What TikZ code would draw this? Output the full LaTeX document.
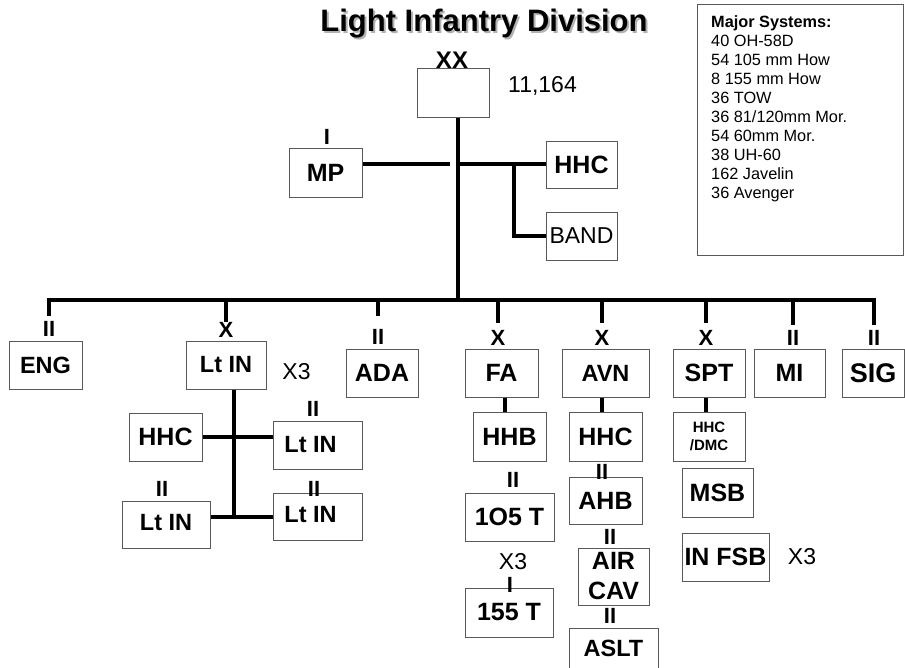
\documentclass[tikz,border=0pt]{standalone}
\usepackage{fontspec}
\setmainfont{Liberation Sans}
\newcommand{\fsz}[1]{\fontsize{#1}{#1}\selectfont}

\tikzset{
  unit/.style={draw=black!65, line width=1pt, inner sep=0pt, minimum height=48,
    align=center, font=\bfseries\fsz{25}},
  ech/.style={inner sep=0pt, font=\bfseries\fsz{22}},
  link/.style={line width=4pt},
  note/.style={inner sep=0pt, font=\fsz{23}},
}

\begin{document}
\begin{tikzpicture}[x=1pt, y=-1pt]
  \useasboundingbox (0,0) rectangle (905,667);
  \clip (0,0) rectangle (905,667);

  % title, with its grey shadow
  \node[inner sep=0pt, font=\bfseries\fsz{31}] (title) at (484,25)
    {\rlap{\hspace{2pt}\raisebox{-2pt}{\color{black!30}Light Infantry Division}}Light Infantry Division};

  % division headquarters
  \node[unit, minimum width=72, minimum height=49] (div) at (453,92.5) {};
  \node[ech, font=\bfseries\fsz{24}] (divE) at (452,60) {XX};
  \node[note] (strength) at (542.5,86) {11,164};

  \coordinate (hq) at (458,164);   % crossing of trunk and staff line
  \coordinate (br) at (514,164);   % branch to band
  \coordinate (bus) at (458,300);  % main bus line

  % divisional troops at the top
  \node[unit, minimum width=73, minimum height=49] (mp) at (325.5,172.5) {MP};
  \node[ech] (mpE) at (327,137) {I};
  \node[unit, minimum width=71, minimum height=47] (hhc) at (581.5,164.5) {HHC};
  \node[unit, minimum width=71, font=\fsz{23}] (band) at (581.5,236) {BAND};

  \draw[link] (div.south -| hq) -- (bus);
  \draw[link] (mp.east |- hq) -- ([xshift=-8pt]hq);
  \draw[link] (hq) -- (hq -| hhc.west);
  \draw[link] (br) |- (band.west);

  % major systems
  \node[draw=black!65, line width=1pt, inner sep=0pt, minimum width=206, minimum height=251,
    anchor=north west] (sys) at (697,4) {};
  \node[anchor=north west, align=left, inner sep=0pt, font=\fontsize{16.3}{19}\selectfont] (syslist) at (711,15.5)
    {\textbf{Major Systems:}\\40 OH-58D\\54 105 mm How\\8 155 mm How\\36 TOW\\
     36 81/120mm Mor.\\54 60mm Mor.\\38 UH-60\\162 Javelin\\36 Avenger};

  % units under the bus
  \node[unit, minimum width=73, font=\bfseries\fsz{23.5}] (eng) at (45.5,365) {ENG};
  \node[ech] (engE) at (49,329) {II};
  \node[unit, minimum width=80, font=\bfseries\fsz{23.5}] (brig) at (226,365) {Lt IN};
  \node[ech] (brigE) at (226,330) {X};
  \node[note] (brigX3) at (296.5,372) {X3};
  \node[unit, minimum width=72] (ada) at (382,373) {ADA};
  \node[ech] (adaE) at (378,337) {II};
  \node[unit, minimum width=73] (fa) at (501.5,373) {FA};
  \node[ech] (faE) at (498,338) {X};
  \node[unit, minimum width=87, font=\bfseries\fsz{23.5}] (avn) at (605.5,373) {AVN};
  \node[ech] (avnE) at (602,338) {X};
  \node[unit, minimum width=72] (spt) at (709,373) {SPT};
  \node[ech] (sptE) at (706,338) {X};
  \node[unit, minimum width=71] (mi) at (789.5,373) {MI};
  \node[ech] (miE) at (793,338) {II};
  \node[unit, minimum width=62, font=\bfseries\fsz{27}] (sig) at (873,373) {SIG};
  \node[ech] (sigE) at (874,338) {II};

  \draw[link] ([yshift=-16pt]engE.north |- bus) -- (engE.north |- bus) -- (bus -| sigE.north)
    -- ([yshift=-25pt]bus -| sigE.north);
  \foreach \e/\d in {brigE/22, adaE/16, faE/23, avnE/23, sptE/23, miE/25}
    \draw[link] (\e.north |- bus) -- ++(0,\d);

  % infantry brigade
  \node[unit, minimum width=73] (bhhc) at (165.5,437) {HHC};
  \node[unit, minimum width=89, font=\bfseries\fsz{23.5}] (blt1) at (317.5,445) {\raisebox{-5pt}{Lt IN\hspace{14pt}}};
  \node[ech] (blt1E) at (313,409) {II};
  \node[unit, minimum width=89, minimum height=47, font=\bfseries\fsz{23.5}] (blt2) at (317.5,516.5) {\raisebox{4pt}{Lt IN\hspace{14pt}}};
  \node[unit, minimum width=88, minimum height=47, font=\bfseries\fsz{23.5}] (blt3) at (166,524.5) {\raisebox{4pt}{Lt IN}};
  \node[ech] (blt3E) at (162,489) {II};
  \node[ech] (blt2E) at (314,489) {II};

  \coordinate (bnA) at (234,437);
  \coordinate (bnB) at (234,517);
  \draw[link] (brig.south -| bnA) -- (bnB);
  \draw[link] (bhhc.east) -- (bhhc.east -| blt1.west);
  \draw[link] (blt2.west) -- (blt2.west -| blt3.east);

  % field artillery
  \node[unit, minimum width=73, minimum height=49] (hhb) at (509.5,436.5) {HHB};
  \node[unit, minimum width=89] (t105) at (509.5,517) {1O5 T};
  \node[ech] (t105E) at (513,480) {II};
  \node[note] (faX3) at (513,562) {X3};
  \node[unit, minimum width=88, minimum height=49] (t155) at (509,612.5) {155 T};
  \node[ech] (t155E) at (510,585) {I};
  \draw[link] ([xshift=3.5pt]fa.south) -- ([xshift=3.5pt]fa.south |- hhb.north);

  % aviation
  \node[unit, minimum width=73, minimum height=49] (ahhc) at (605.5,436.5) {HHC};
  \node[unit, minimum width=73, minimum height=47] (ahb) at (605.5,500.5) {AHB};
  \node[ech] (ahbE) at (602,472) {II};
  \node[unit, minimum width=71, minimum height=57, font=\bfseries\fontsize{25}{30}\selectfont] (cav) at (613.5,576.5) {AIR\\CAV};
  \node[ech] (cavE) at (610,537) {II};
  \node[unit, minimum width=89, minimum height=40, font=\bfseries\fsz{23.5}] (aslt) at (613.5,648) {ASLT};
  \node[ech] (asltE) at (610,616) {II};
  \draw[link] ([xshift=-3.5pt]avn.south) -- ([xshift=-3.5pt]avn.south |- ahhc.north);

  % support command
  \node[unit, minimum width=72, minimum height=49, font=\bfseries\fontsize{15}{18}\selectfont] (shhc) at (709,436.5) {HHC\\/DMC};
  \node[unit, minimum width=71, minimum height=49] (msb) at (717.5,492.5) {MSB};
  \node[unit, minimum width=87] (fsb) at (725.5,557) {IN FSB};
  \node[note] (fsbX3) at (802,557) {X3};
  \draw[link] ([xshift=-3pt]spt.south) -- ([xshift=-3pt]spt.south |- shhc.north);
\end{tikzpicture}
\end{document}
